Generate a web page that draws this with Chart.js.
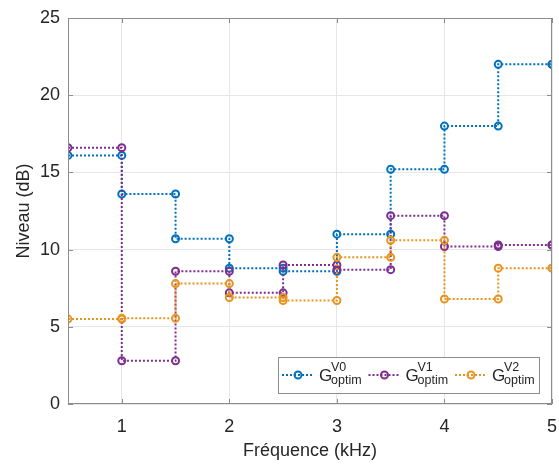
<!DOCTYPE html>
<html lang="fr">
<head>
<meta charset="UTF-8">
<title>Niveau optimal</title>
<script src="https://cdn.jsdelivr.net/npm/chart.js"></script>
<style>
  html, body { margin: 0; padding: 0; background: #fff; }
  #wrap { width: 559px; height: 468px; }
</style>
</head>
<body>
<div id="wrap"><canvas id="chart" width="559" height="468"></canvas></div>
<script>
// frequencies (kHz) and levels (dB)
const freq = [0.5, 1, 1.5, 2, 2.5, 3, 3.5, 4, 4.5, 5];
const gV0 = [16.1, 13.6, 10.7, 8.8, 8.6, 11.0, 15.2, 18.0, 22.0, 22.0];
const gV1 = [16.6, 2.8, 8.6, 7.2, 9.0, 8.7, 12.2, 10.2, 10.3, 10.3];
const gV2 = [5.5, 5.55, 7.8, 6.9, 6.7, 9.5, 10.6, 6.8, 8.8, 8.8];
const xTicks = [1, 2, 3, 4, 5];
const yTicks = [0, 5, 10, 15, 20, 25];
const seriesSup = ['V0', 'V1', 'V2'];

const colors = ['#0072BD', '#7E2F8E', '#E8941E'];
const FONT = '"Liberation Sans", Arial, Helvetica, sans-serif';

// stairs: hold each value until the next frequency, marker on every corner
function stairs(xs, ys) {
  const pts = [];
  for (let i = 0; i < xs.length; i++) {
    pts.push({x: xs[i], y: ys[i]});
    if (i < xs.length - 1) pts.push({x: xs[i + 1], y: ys[i]});
  }
  return pts;
}

function makeSet(ys, i) {
  return {
    data: stairs(freq, ys),
    borderColor: colors[i],
    borderWidth: 2,
    borderDash: [2, 2],
    pointStyle: 'circle',
    pointRadius: 3.5,
    pointBorderWidth: 2,
    pointBorderColor: colors[i],
    pointBackgroundColor: 'rgba(0,0,0,0)',
    fill: false,
    tension: 0,
    order: 2 - i
  };
}

// box + inward ticks like matlab, and the legend with sub/superscripts
const boxPlugin = {
  id: 'box',
  afterDraw(chart) {
    const ctx = chart.ctx;
    const a = chart.chartArea;
    const xs = chart.scales.x, ys = chart.scales.y;
    ctx.save();
    ctx.strokeStyle = '#8c8c8c';
    ctx.lineWidth = 1;
    ctx.strokeRect(a.left + 0.5, a.top + 0.5, a.right - a.left - 1, a.bottom - a.top - 1);
    ctx.beginPath();
    xTicks.forEach(v => {
      const px = Math.round(xs.getPixelForValue(v)) + 0.5;
      ctx.moveTo(px, a.bottom); ctx.lineTo(px, a.bottom - 5);
      ctx.moveTo(px, a.top); ctx.lineTo(px, a.top + 5);
    });
    yTicks.forEach(v => {
      const py = Math.round(ys.getPixelForValue(v)) + 0.5;
      ctx.moveTo(a.left, py); ctx.lineTo(a.left + 5, py);
      ctx.moveTo(a.right, py); ctx.lineTo(a.right - 5, py);
    });
    ctx.stroke();

    // legend
    const bw = 261, bh = 36;
    const bx = a.right - 13 - bw, by = a.bottom - 11 - bh;
    ctx.fillStyle = '#fff';
    ctx.fillRect(bx, by, bw, bh);
    ctx.strokeStyle = '#8c8c8c';
    ctx.strokeRect(bx + 0.5, by + 0.5, bw, bh);
    const cy = by + 18;
    seriesSup.forEach((sup, i) => {
      const x0 = bx + 4 + i * 86.5;
      ctx.strokeStyle = colors[i];
      ctx.lineWidth = 2;
      ctx.setLineDash([2, 2]);
      ctx.beginPath();
      ctx.moveTo(x0, cy); ctx.lineTo(x0 + 31, cy);
      ctx.stroke();
      ctx.setLineDash([]);
      ctx.beginPath();
      ctx.arc(x0 + 16, cy, 3.5, 0, Math.PI * 2);
      ctx.stroke();
      ctx.fillStyle = '#262626';
      ctx.textAlign = 'left';
      ctx.textBaseline = 'alphabetic';
      ctx.font = '17px ' + FONT;
      ctx.fillText('G', x0 + 37, by + 24);
      ctx.font = '12.5px ' + FONT;
      ctx.fillText(sup, x0 + 49, by + 14);
      ctx.fillText('optim', x0 + 49, by + 27);
    });
    ctx.restore();
  }
};

new Chart(document.getElementById('chart'), {
  type: 'line',
  data: { datasets: [makeSet(gV0, 0), makeSet(gV1, 1), makeSet(gV2, 2)] },
  options: {
    responsive: false,
    animation: false,
    layout: { padding: { top: 18, right: 7, left: 0, bottom: 0 } },
    plugins: { legend: { display: false }, tooltip: { enabled: false } },
    scales: {
      x: {
        type: 'linear',
        min: 0.5, max: 5,
        afterBuildTicks: s => { s.ticks = xTicks.map(v => ({value: v})); },
        afterFit: s => { s.height = 64; s.paddingLeft = 0; s.paddingRight = 0; },
        grid: { color: '#e6e6e6', drawTicks: false },
        border: { display: false },
        ticks: { color: '#262626', font: { family: FONT, size: 18 }, padding: 12, maxRotation: 0 },
        title: { display: true, text: 'Fréquence (kHz)', color: '#262626',
                 font: { family: FONT, size: 18 }, padding: { top: 0, bottom: 6 } }
      },
      y: {
        min: 0, max: 25,
        afterBuildTicks: s => { s.ticks = yTicks.map(v => ({value: v})); },
        afterFit: s => { s.width = 68; s.paddingTop = 0; s.paddingBottom = 0; },
        grid: { color: '#e6e6e6', drawTicks: false },
        border: { display: false },
        ticks: { color: '#262626', font: { family: FONT, size: 18 }, padding: 8 },
        title: { display: true, text: 'Niveau (dB)', color: '#262626',
                 font: { family: FONT, size: 18 }, padding: { top: 13, bottom: 0 } }
      }
    }
  },
  plugins: [boxPlugin]
});
</script>
</body>
</html>
